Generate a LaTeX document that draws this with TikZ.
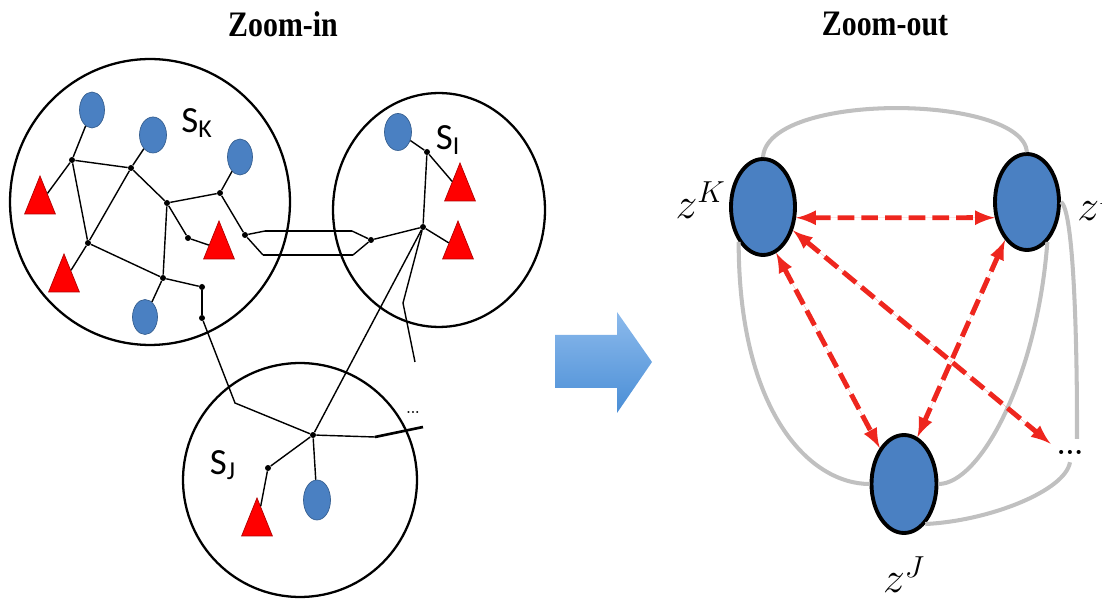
\documentclass[tikz,border=0pt]{standalone}
\usepackage{fontspec}
\usepackage{tikz}
\usetikzlibrary{arrows}
\usetikzlibrary{calc}
\usetikzlibrary{positioning}
\usetikzlibrary{shapes.geometric}
\tikzset{>=latex}
\newfontfamily\titlefont{Liberation Serif}
\newfontfamily\labelfont{Carlito}
\definecolor{nodeblue}{RGB}{74,128,194}
\definecolor{linkred}{RGB}{238,38,30}
\definecolor{linkgray}{RGB}{192,192,192}

\begin{document}
\begin{tikzpicture}[x=0.02cm,y=0.02cm,
  title/.style={font=\titlefont\bfseries\fontsize{17}{20}\selectfont},
  group/.style={draw,ellipse,line width=1.3pt,inner sep=0pt},
  host/.style={draw=nodeblue!75!black,fill=nodeblue,ellipse,inner sep=0pt,minimum width=0.5cm,minimum height=0.72cm},
  sensor/.style={draw=red!70!black,fill=red,isosceles triangle,isosceles triangle apex angle=44,shape border rotate=90,anchor=apex,inner sep=0pt,minimum height=0.76cm},
  joint/.style={circle,fill=black,inner sep=0pt,minimum size=0.12cm},
  wire/.style={line width=0.8pt},
  grouplabel/.style={font=\labelfont\fontsize{21}{24}\selectfont},
  super/.style={draw,line width=2.2pt,fill=nodeblue,ellipse,inner sep=0pt,minimum width=1.28cm,minimum height=1.92cm},
  superlabel/.style={font=\fontsize{23}{26}\selectfont,inner sep=0pt},
  relation/.style={<->,draw=linkred,fill=linkred,line width=2.8pt,dash pattern=on 9.5pt off 4pt},
  tie/.style={linkgray,line width=2.3pt}]

\useasboundingbox (0,0) rectangle (1102,602);
\clip (0,0) rectangle (1102,602);

\node (titleIn) [title] at (283,578) {\scalebox{1}[1.2]{Zoom-in}};
\node (titleOut) [title] at (885,578) {\scalebox{1}[1.2]{Zoom-out}};

% the three groups
\node (SK) [group,minimum width=5.6cm,minimum height=5.72cm] at (150,400) {};
\node (SI) [group,minimum width=4.24cm,minimum height=4.68cm] at (439,392) {};
\node (SJ) [group,minimum width=4.68cm,minimum height=4.68cm] at (300,122) {};

\node [grouplabel] at (197,479) {S\textsubscript{K}};
\node [grouplabel] at (448,462) {S\textsubscript{I}};
\node [grouplabel] at (223,137) {S\textsubscript{J}};

% group K
\node (hostK1) [host] at (92,492) {};
\node (hostK2) [host,minimum width=0.54cm] at (153,467) {};
\node (hostK3) [host] at (240,445) {};
\node (hostK4) [host,minimum height=0.7cm] at (145,285) {};
\node (sensorK1) [sensor] at (40,427) {};
\node (sensorK2) [sensor] at (64,349) {};
\node (sensorK3) [sensor] at (219,382) {};
\node (jointK1) [joint] at (72,442) {};
\node (jointK2) [joint] at (131,434) {};
\node (jointK3) [joint] at (167,399) {};
\node (jointK4) [joint] at (220,409) {};
\node (jointK5) [joint] at (88,359) {};
\node (jointK6) [joint] at (188,364) {};
\node (jointK7) [joint] at (245,367) {};
\node (jointK8) [joint] at (163,324) {};
\node (jointK9) [joint] at (202,315) {};
\node (jointK10) [joint] at (202,284) {};

\foreach \a/\b in {hostK1/jointK1, sensorK1/jointK1, jointK1/jointK2, jointK1/jointK5,
                   jointK2/hostK2, jointK2/jointK5, jointK2/jointK3, jointK3/jointK4,
                   jointK4/hostK3, jointK4/jointK7, jointK3/jointK6, jointK6/sensorK3,
                   jointK3/jointK8, jointK5/sensorK2, jointK5/jointK8, jointK8/hostK4,
                   jointK8/jointK9, jointK9/jointK10}
  \draw [wire] (\a) -- (\b);

% group I
\node (hostI) [host,minimum width=0.54cm,minimum height=0.74cm] at (398,470) {};
\node (sensorI1) [sensor] at (460,440) {};
\node (sensorI2) [sensor] at (458,382) {};
\node (jointI1) [joint] at (427,450) {};
\node (hubI) [joint] at (423,375) {};
\node (jointI2) [joint] at (371,362) {};

\foreach \a/\b in {hostI/jointI1, jointI1/sensorI1, jointI1/hubI, hubI/sensorI2, hubI/jointI2}
  \draw [wire] (\a) -- (\b);

% group J
\node (hostJ) [host,minimum width=0.54cm,minimum height=0.8cm] at (317,102) {};
\node (sensorJ) [sensor] at (257,105) {};
\node (jointJ1) [joint] at (268,134) {};
\node (hubJ) [joint] at (313,167) {};
\node (moreJ) at (413,190) {\bfseries\fontsize{7}{8}\selectfont ...};

\foreach \a/\b in {hubJ/jointJ1, jointJ1/sensorJ, hubJ/hostJ}
  \draw [wire] (\a) -- (\b);

% links between the groups
\coordinate (upL) at (265,371);
\coordinate (upR) at (352,371);
\coordinate (loL) at (263,347);
\coordinate (loR) at (353,347);
\draw [wire] (jointK7) -- (upL) (upR) -- (jointI2) -- (loR) (loL) -- (jointK7);
\draw [line width=1.7pt] (upL) -- (upR) (loL) -- (loR);

\coordinate (bendJ) at (235,199);
\draw [wire] (jointK10) -- (bendJ) -- (hubJ);
\draw [wire] (hubI) -- (hubJ);

\coordinate (kinkI) at (403,299);
\coordinate (tailI) at (415,240);
\draw [wire] (hubI) -- (kinkI) -- (tailI);

\coordinate (kinkJ) at (375,165);
\coordinate (tailJ) at (423,175);
\draw [wire] (hubJ) -- (kinkJ);
\draw [line width=1.5pt] (kinkJ) -- (tailJ);

% block arrow
\shade [top color={rgb,255:red,140;green,186;blue,236},bottom color={rgb,255:red,74;green,142;blue,214}]
  (555,267) -- (617,267) -- (617,290) -- (652,240) -- (617,189) -- (617,214) -- (555,214) -- cycle;

% zoomed-out graph
\node (zK) [super] at (763,395) {};
\node (zI) [super] at (1027,400) {};
\node (zJ) [super,minimum width=1.3cm,minimum height=1.96cm] at (904,118) {};
\node (dots) at (1070,150) {\bfseries\fontsize{16}{18}\selectfont ...};

\node (labK) [superlabel,left=0.2cm of zK,xshift=4pt,yshift=4pt] {$z^K$};
\node (labI) [superlabel,right=0.32cm of zI] {$z^I$};
\node (labJ) [superlabel,below=0.42cm of zJ] {$z^J$};

\draw [tie] (zK.north) .. controls +(5,66) and +(-5,58) .. (zI.north);
\draw [tie] (zK.235) .. controls +(0,-170) and +(-60,0) .. (zJ.west);
\draw [tie] (zI.-63) .. controls +(-10,-135) and +(42,0) .. (zJ.east);
\draw [tie] (zI.east) .. controls +(14,-8) and +(0,60) .. ($(dots.north)+(7,20)$) -- ($(dots.north)+(7,5)$);
\draw [tie] ($(dots.south)+(0,-2)$) .. controls +(-5,-29) and +(63,3) .. (zJ.-62);

\draw [relation] (zK.-18) -- (zI.206);
\draw [relation] (zK.-74) -- (zJ.124);
\draw [relation] (zI.-120) -- (zJ.74);
\draw [relation] (zK.-38) -- (dots.north west);

\end{tikzpicture}
\end{document}
